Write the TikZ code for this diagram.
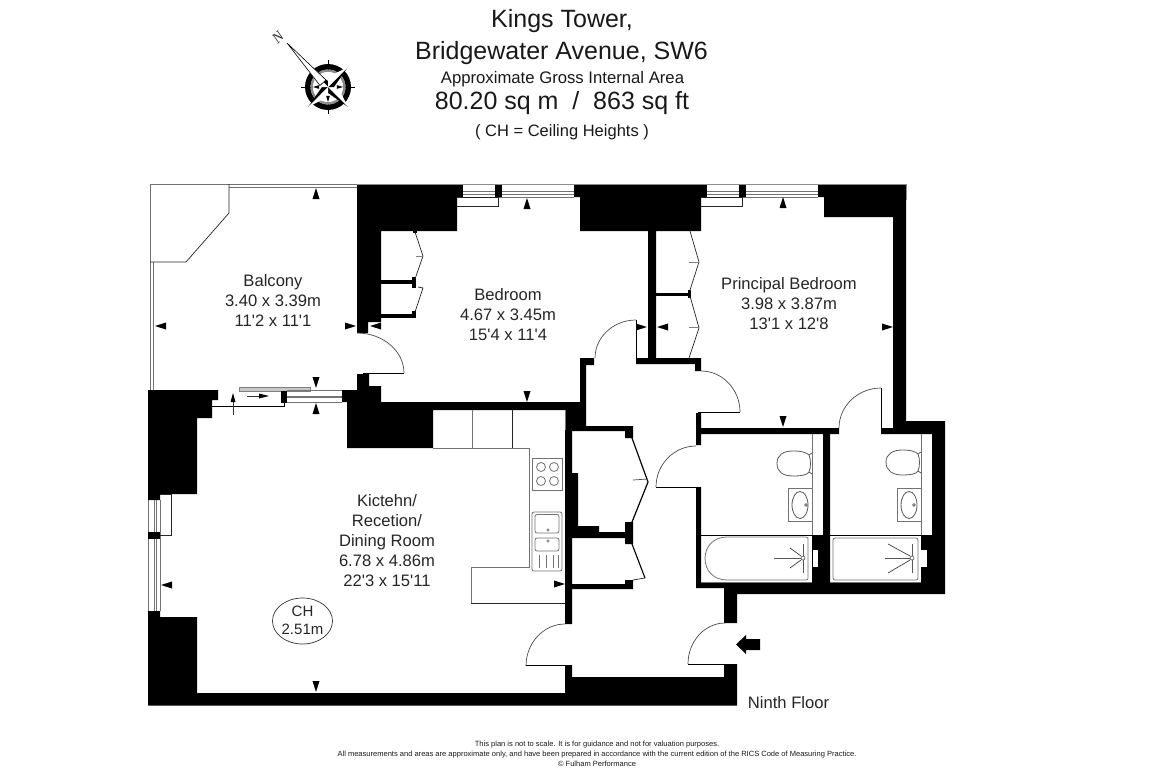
\documentclass[tikz,border=0pt]{standalone}
\usepackage{fontspec}
\usetikzlibrary{calc}
\newfontfamily\lib{Liberation Sans}
\newfontfamily\libs{Liberation Serif}
\tikzset{
  x=1pt,y=-1pt,
  wall/.style={fill=black,draw=none},
  gl/.style={draw=black!55,line width=0.8pt},
  tl/.style={draw=black!85,line width=0.7pt},
  doorline/.style={draw=black,line width=1pt},
  arcline/.style={draw=black!70,line width=0.7pt},
  label/.style={font=\lib\fontsize{16.6}{20}\selectfont,text=black!85,align=center,inner sep=0pt},
  head/.style={text=black!90,align=center,inner sep=0pt},
}
\newcommand\qarc[6]{\draw[arcline] (#1,#2) .. controls ($(#1,#2)!0.55!(#5,#6)$) and ($(#3,#4)!0.55!(#5,#6)$) .. (#3,#4);}
\newcommand\tU[2]{\fill (#1,#2) -- ++(-3.5,11) -- ++(7,0) -- cycle;}
\newcommand\tD[2]{\fill (#1,#2) -- ++(-3.5,-11) -- ++(7,0) -- cycle;}
\newcommand\tL[2]{\fill (#1,#2) -- ++(11,-3.5) -- ++(0,7) -- cycle;}
\newcommand\tR[2]{\fill (#1,#2) -- ++(-11,-3.5) -- ++(0,7) -- cycle;}
\newcommand\winH[4]{% x1 x2 mullion1 mullion2 at y 184-197
  \fill[white] (#1,184) rectangle (#2,197);
  \draw[gl] (#1,184.5) -- (#2,184.5) (#1,191) -- (#2,191) (#1,194) -- (#2,194) (#1,197) -- (#2,197);
  \fill[black] (#3,184) rectangle (#4,197);}
\begin{document}
\begin{tikzpicture}
\useasboundingbox (0,0) rectangle (1161,776);
\fill[white] (0,0) rectangle (1161,776);

% balcony
\draw[gl] (150,390) -- (150,184) -- (357,184);
\draw[gl] (153.5,390) -- (153.5,262);
\draw[gl] (229,187.5) -- (357,187.5);
\draw[tl] (229,184) -- (229,213) -- (186,262) -- (150,262);

% walls
\fill[wall] (357,184) -- (463,184) -- (463,197) -- (457,197) -- (457,231) -- (381,231) -- (381,322) -- (368,322) -- (368,333) -- (357,333) -- cycle;
\fill[wall] (357,374) -- (369,374) -- (369,386) -- (381,386) -- (381,402) -- (580,402) -- (580,358) -- (594,358) -- (594,365) -- (586,365) -- (586,426) -- (633,426) -- (633,438) -- (625,438) -- (625,431) -- (572,431) -- (572,473) -- (578,473) -- (578,526) -- (599,526) -- (599,532) -- (625,532) -- (625,522) -- (633,522) -- (633,544) -- (625,544) -- (625,538) -- (572,538) -- (572,584) -- (625,584) -- (625,580) -- (633,580) -- (633,589) -- (572,589) -- (572,624) -- (565,624) -- (565,410) -- (433,410) -- (433,448) -- (347,448) -- (347,402) -- (342,402) -- (342,390) -- (357,390) -- cycle;
\fill[wall] (148,390) -- (218,390) -- (218,400) -- (212,400) -- (212,418) -- (197,418) -- (197,494) -- (160,494) -- (160,500) -- (148,500) -- cycle;
\fill[wall] (148,611) -- (160,611) -- (160,617) -- (197,617) -- (197,693) -- (565,693) -- (565,665) -- (572,665) -- (572,677) -- (724,677) -- (724,664) -- (737,664) -- (737,705.5) -- (148,705.5) -- cycle;
\fill[wall] (574,184) -- (707,184) -- (707,197) -- (701,197) -- (701,231) -- (656,231) -- (656,358) -- (701,358) -- (701,371) -- (695,371) -- (695,364) -- (636,364) -- (636,358) -- (648,358) -- (648,231) -- (580,231) -- (580,197) -- (574,197) -- cycle;
\fill[wall] (818,184) -- (906,184) -- (906,421) -- (945,421) -- (945,594) -- (737,594) -- (737,623) -- (724,623) -- (724,588) -- (696,588) -- (696,487) -- (701,487) -- (701,582) -- (812,582) -- (812,535) -- (823,535) -- (823,434) -- (830,434) -- (830,582) -- (921,582) -- (921,535) -- (932,535) -- (932,434) -- (881,434) -- (881,428) -- (893,428) -- (893,217) -- (824,217) -- (824,197) -- (818,197) -- cycle;
\fill[wall] (696,413) -- (701,413) -- (701,428) -- (839,428) -- (839,434) -- (701,434) -- (701,445) -- (696,445) -- cycle;

% closet shelves, bedroom
\fill[wall] (381,280) rectangle (416,284);
\fill[wall] (412,277) rectangle (416,288);
\fill[wall] (381,314) rectangle (416,317.5);
\fill[wall] (412,311) rectangle (416,317.5);
\fill[wall] (413,230) rectangle (417,233);
\draw[tl] (415,232) -- (423,256) -- (415,279);
\draw[tl] (415,312) -- (423,288) -- (418,287);
\draw[draw=black!50,line width=0.6pt] (416,256) -- (423,256);
% closet shelves, principal
\fill[wall] (656,292.5) rectangle (691,296);
\fill[wall] (688,290) rectangle (691,298);
\draw[tl] (690,231) -- (699,262) -- (690,290);
\draw[tl] (690,296) -- (699,328) -- (689,358);
\draw[draw=black!50,line width=0.6pt] (689,262) -- (699,262) (689,327) -- (699,327);
% hall closets
\draw[draw=black,line width=1.2pt] (632,438) -- (648,482) -- (632,522);
\draw[draw=black!70,line width=0.7pt] (633,480) -- (648,479);
\draw[draw=black,line width=1.1pt] (632,544) -- (645,578);
\draw[tl] (645,578) -- (633,580);

% windows and top glazing
\winH{463}{574}{495}{502}
\winH{707}{818}{739}{746}
\draw[tl] (457,197) -- (498,197) -- (498,206) -- (457,206);
\draw[tl] (701,197) -- (742,197) -- (742,206) -- (701,206);
% outline on top of the building
\draw[draw=black!45,line width=0.7pt] (357,184) -- (906,184) -- (906,200);

% sliding door
\draw[draw=black!50,fill=black!22,line width=0.6pt] (239.5,387) rectangle (310,391);
\draw[gl] (287,390) -- (342,390) (287,396) -- (342,396) (287,397.5) -- (342,397.5) (287,402.5) -- (342,402.5);
\fill[wall] (281,391) rectangle (287,403);
\draw[draw=black,line width=0.7pt] (212,406) -- (284,406) -- (284,403);
\draw[draw=black!80,line width=0.6pt] (233,402) -- (233,415);
\fill (233,393) -- (230.5,402) -- (235.5,402) -- cycle;
\draw[draw=black!80,line width=0.6pt] (247,396) -- (262,396);
\fill (269,396) -- (259,393.5) -- (259,398.5) -- cycle;

% kitchen window
\draw[gl] (148.5,500) -- (148.5,611) (154,500) -- (154,611) (156,500) -- (156,611) (160,500) -- (160,611);
\fill[wall] (148,532) rectangle (160,539);
\draw[tl] (160,494) -- (171,494) -- (171,535) -- (160,535);

% kitchen units
\draw[gl] (433,448) -- (529,448) -- (529,567) -- (471,567) -- (471,603);
\draw[draw=black!85,line width=0.7pt] (471,603) -- (565,603);
\draw[gl] (472,410) -- (472,448);
\draw[tl] (512,410) -- (512,448);
\draw[gl] (565,410) -- (565,430);
\draw[gl] (532,458) rectangle (562,490);
\foreach \cx/\cy in {541/467,554/467,541/481,554/481} \draw[gl] (\cx,\cy) circle (4.5);
\draw[gl,rounded corners=2pt] (532,512) rectangle (562,571);
\draw[gl,rounded corners=2pt] (535,514.5) rectangle (559,533);
\draw[gl,rounded corners=2pt] (535,538) rectangle (559,551);
\draw[draw=black!60,line width=0.5pt] (548,530) circle (1.2) (548,541) circle (1.2);
\draw[gl] (539,555) -- (539,568) (546,555) -- (546,568) (553,555) -- (553,568) (558,555) -- (558,568);

% bathroom 1
\draw[gl] (812,434) -- (812,535);
\draw[draw=black!65,line width=0.8pt] (777,463.5) .. controls (777,455) and (783,451) .. (793,451) .. controls (803,451) and (807,453) .. (809,455) .. controls (811,460) and (811,467) .. (809,472) .. controls (807,475) and (802,476) .. (793,476) .. controls (783,476) and (777,472) .. (777,463.5);
\draw[draw=black!65,line width=0.8pt] (809,455) -- (812,453) (809,472) -- (812,474);
\draw[gl] (812,488) -- (788,488) -- (788,521) -- (812,521);
\draw[draw=black!65,line width=0.8pt] (800,505) ellipse (8 and 13.5);
\draw[draw=black!65,line width=0.6pt] (806,505) circle (1.4);
\draw[draw=black,line width=0.7pt] (701,535) -- (812,535);
\draw[gl] (701,582) -- (812,582);
\draw[gl] (727,537) .. controls (714,537) and (705,546) .. (705,558.5) .. controls (705,571) and (714,580) .. (727,580) -- (806,580) .. controls (807.5,580) and (808,579) .. (808,578) -- (808,539) .. controls (808,538) and (807.5,537) .. (806,537) -- cycle;
\draw[draw=black!65,line width=0.8pt] (803,544) -- (803,556) (803,560) -- (803,573);
\draw[draw=black!65,line width=0.8pt] (774,558) -- (801,558);
\draw[draw=black!75,line width=0.7pt] (790,548) -- (801,556) (790,568) -- (801,560);
\draw[draw=black!70,fill=white,line width=0.6pt] (803,558) circle (2);
\fill[white] (813,550) rectangle (818,567);

% bathroom 2
\draw[gl] (921,434) -- (921,535);
\draw[draw=black!65,line width=0.8pt] (886,462) .. controls (886,454) and (893,450) .. (902,450) .. controls (912,450) and (916,452) .. (918,454) .. controls (920,459) and (920,466) .. (918,471) .. controls (916,474) and (911,475) .. (902,475) .. controls (893,475) and (886,471) .. (886,462);
\draw[draw=black!65,line width=0.8pt] (918,454) -- (921,452) (918,471) -- (921,473);
\draw[gl] (921,488) -- (897,488) -- (897,521) -- (921,521);
\draw[draw=black!65,line width=0.8pt] (909,505) ellipse (8 and 13.5);
\draw[draw=black!65,line width=0.6pt] (914,505) circle (1.4);
\draw[draw=black,line width=0.7pt] (830,535) -- (921,535);
\draw[gl] (830,582) -- (921,582);
\draw[gl,rounded corners=2pt] (833,538) rectangle (918,580);
\draw[draw=black!65,line width=0.8pt] (912,544) -- (912,556) (912,560) -- (912,573);
\draw[draw=black!65,line width=0.8pt] (885,558) -- (910,558);
\draw[draw=black!75,line width=0.7pt] (888,544) -- (910,556) (888,573) -- (910,560);
\draw[draw=black!70,fill=white,line width=0.6pt] (912,558) circle (2);
\fill[white] (921,550) rectangle (927,567);

% doors
\qarc{357}{333}{404}{373}{404}{333}
\draw[doorline] (363,373.5) -- (404,373.5);
\qarc{636}{320}{595}{358}{595}{320}
\draw[doorline] (636,320) -- (636,360);
\qarc{701}{371}{740}{412}{740}{371}
\draw[doorline] (698,412) -- (740,412);
\qarc{881}{388}{839}{428}{839}{388}
\draw[doorline] (881,388) -- (881,430);
\qarc{696}{446}{656}{487}{656}{446}
\draw[doorline] (656,487) -- (698,487);
\qarc{565}{624}{526}{666}{526}{624}
\draw[doorline] (526,665.5) -- (568,665.5);
\qarc{725}{623}{688}{664}{688}{623}
\draw[doorline] (688,664) -- (731,664);

% entrance arrow
\fill (736,644.5) -- (746,635) -- (746,639) -- (760,639) -- (760,650) -- (746,650) -- (746,654) -- cycle;

% dimension arrows
\tU{316}{188} \tL{155}{326} \tR{356}{326} \tD{316}{388}
\tL{370}{326} \tU{527}{198} \tD{527}{402} \tR{647}{327}
\tL{657}{327} \tU{783}{197} \tD{783}{427} \tR{893}{327}
\tU{316}{403} \tL{161}{585} \tR{565}{584} \tD{316}{692}

% labels
\node[label] (balcony) at (273,300.5) {Balcony\\3.40 x 3.39m\\11'2 x 11'1};
\node[label] (bedroom) at (508,315) {Bedroom\\4.67 x 3.45m\\15'4 x 11'4};
\node[label] (principal) at (789,304) {Principal Bedroom\\3.98 x 3.87m\\13'1 x 12'8};
\node[label] (kitchen) at (387,540.5) {Kictehn/\\Recetion/\\Dining Room\\6.78 x 4.86m\\22'3 x 15'11};
\draw[draw=black!80,line width=0.7pt] (302.5,621) ellipse (30 and 23);
\node[label,font=\lib\fontsize{15}{18}\selectfont] (ch) at (302.5,620.5) {CH\\2.51m};
\node[label] (floor) at (788.5,703) {Ninth Floor};

% title
\node[head,font=\lib\fontsize{25}{25}\selectfont] (t1) at (562,21.5) {Kings Tower,};
\node[head,font=\lib\fontsize{25}{25}\selectfont] (t2) at (561.5,53.5) {Bridgewater Avenue, SW6};
\node[head,font=\lib\fontsize{16.7}{17}\selectfont] (t3) at (562.5,79.5) {Approximate Gross Internal Area};
\node[head,font=\lib\fontsize{25}{25}\selectfont] (t4) at (562,103) {80.20 sq m\ \ /\ \ 863 sq ft};
\node[head,font=\lib\fontsize{16.5}{17}\selectfont] (t5) at (562,132) {( CH = Ceiling Heights )};

% footer
\node[head,font=\lib\fontsize{7.53}{9}\selectfont] (f1) at (597,745) {This plan is not to scale. It is for guidance and not for valuation purposes.};
\node[head,font=\lib\fontsize{7.53}{9}\selectfont] (f2) at (597,755) {All measurements and areas are approximate only, and have been prepared in accordance with the current edition of the RICS Code of Measuring Practice.};
\node[head,font=\lib\fontsize{7.53}{9}\selectfont] (f3) at (597,763.5) {© Fulham Performance};

% compass
\begin{scope}[shift={(328,87)}]
  \draw[draw=black,line width=0.4pt] (0,-27) -- (0,27) (-27,0) -- (27,0);
  \fill[black,even odd rule] (0,0) circle (23) (0,0) circle (17.5);
  \fill[black!45,even odd rule] (0,0) circle (17.5) (0,0) circle (15);
  \fill[white] (0,0) circle (15);
  \foreach \a in {45,135,225,315}{
    \fill[black] (0,0) -- ({28*cos(\a)},{28*sin(\a)}) -- ({6*cos(\a+45)},{6*sin(\a+45)}) -- cycle;
    \fill[white] (0,0) -- ({28*cos(\a)},{28*sin(\a)}) -- ({10*cos(\a-45)},{10*sin(\a-45)}) -- cycle;
  }
  \foreach \a in {0,90,180}{
    \fill[black] ({9*cos(\a-12)},{9*sin(\a-12)}) -- ({15*cos(\a)},{15*sin(\a)}) -- ({9*cos(\a+12)},{9*sin(\a+12)}) -- cycle;
  }
  \draw[draw=black,fill=white,line width=0.6pt,line join=round] (-2,-7) -- (-41,-44) -- (-8,-1.5) -- cycle;
\end{scope}
\node[inner sep=0pt,rotate=45,font=\libs\itshape\fontsize{15}{15}\selectfont,text=black!80] (north) at (278,37) {N};
\end{tikzpicture}
\end{document}
